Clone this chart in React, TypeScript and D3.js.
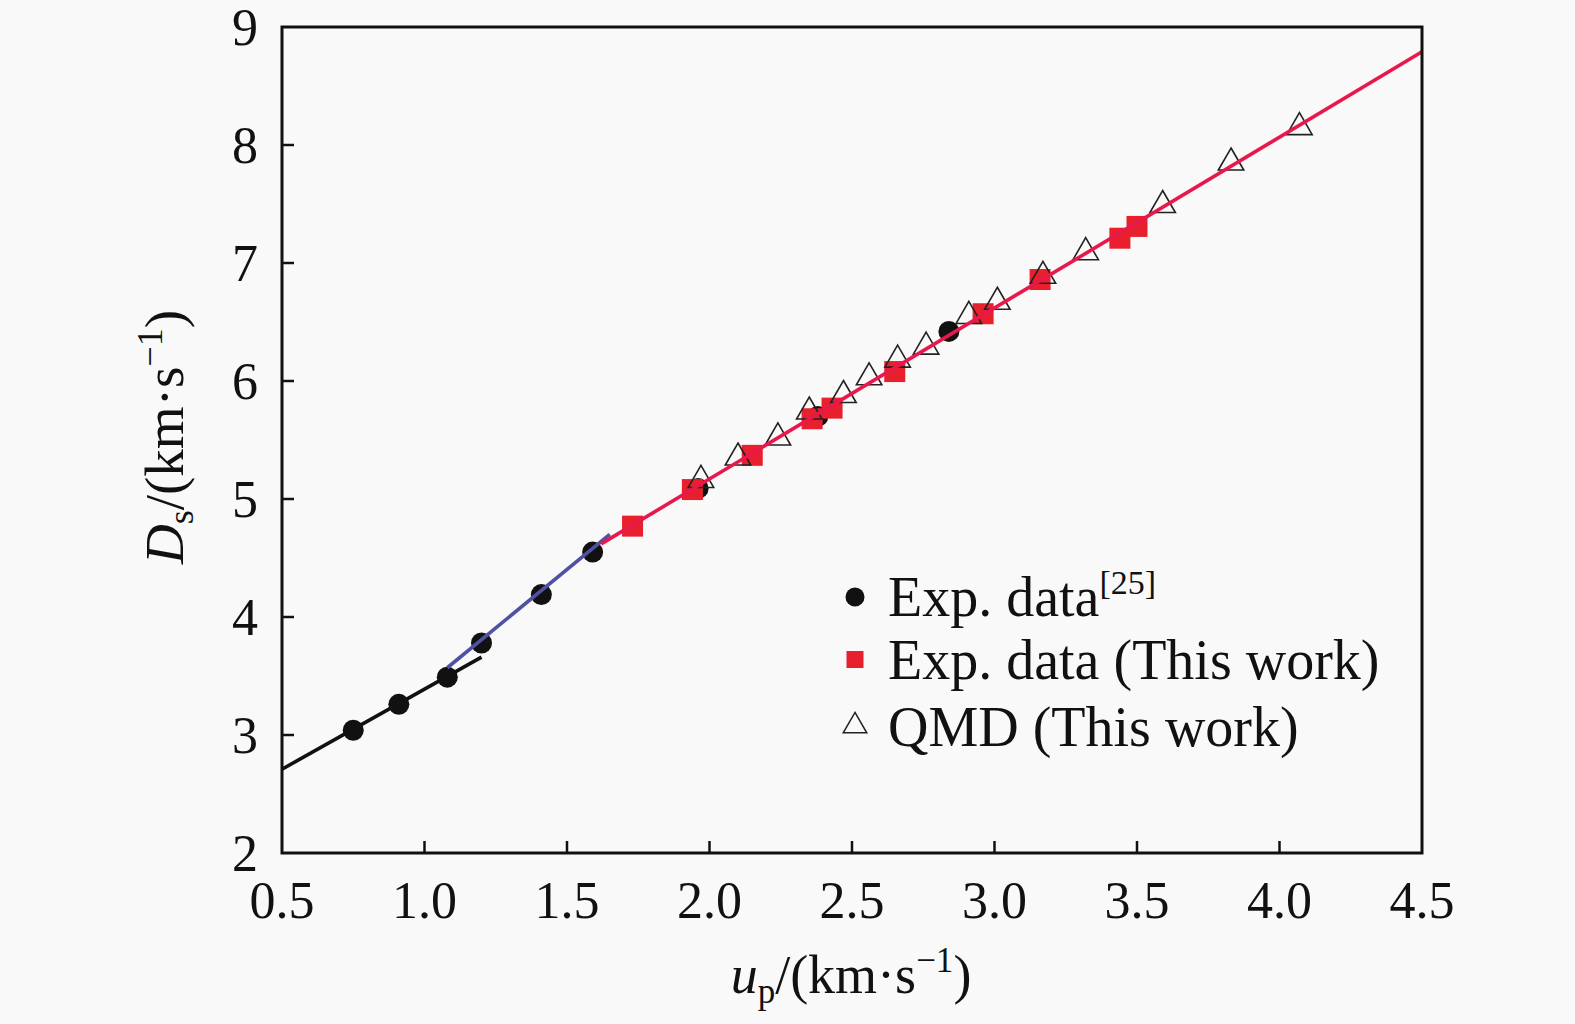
import React, { useEffect, useRef } from 'react';
import * as d3 from 'd3';

// Exp. data [25] (black circles)
const refUp = [0.75, 0.91, 1.08, 1.2, 1.41, 1.59, 1.96, 2.38, 2.84];
const refDs = [3.04, 3.26, 3.49, 3.78, 4.19, 4.55, 5.09, 5.7, 6.42];

// Exp. data (This work) (red squares)
const expUp = [1.73, 1.94, 2.15, 2.36, 2.43, 2.65, 2.96, 3.16, 3.44, 3.5];
const expDs = [4.77, 5.08, 5.37, 5.68, 5.77, 6.08, 6.57, 6.86, 7.21, 7.31];

// QMD (This work) (open triangles)
const qmdUp = [1.97, 2.1, 2.24, 2.35, 2.47, 2.56, 2.66, 2.76, 2.91, 3.01, 3.17, 3.32, 3.59, 3.83, 4.07];
const qmdDs = [5.16, 5.35, 5.52, 5.74, 5.88, 6.03, 6.18, 6.29, 6.55, 6.67, 6.89, 7.09, 7.49, 7.85, 8.15];

// fitted lines (end points)
const fitLowUp = [0.5, 1.2];
const fitLowDs = [2.71, 3.66];
const fitMidUp = [1.08, 1.65];
const fitMidDs = [3.57, 4.7];
const fitHighUp = [1.62, 4.5];
const fitHighDs = [4.62, 8.79];

const xTicks = [0.5, 1.0, 1.5, 2.0, 2.5, 3.0, 3.5, 4.0, 4.5];
const yTicks = [2, 3, 4, 5, 6, 7, 8, 9];

const zip = (xs: number[], ys: number[]) => xs.map((x, i) => [x, ys[i]] as [number, number]);

const App: React.FC = () => {
  const ref = useRef<SVGSVGElement>(null);

  useEffect(() => {
    const svg = d3.select(ref.current!);
    svg.selectAll('*').remove();

    const font = '"Liberation Serif", "Times New Roman", serif';
    const left = 282, right = 1422, top = 27, bottom = 853;

    const x = d3.scaleLinear().domain([0.5, 4.5]).range([left, right]);
    const y = d3.scaleLinear().domain([2, 9]).range([bottom, top]);

    svg.append('rect').attr('width', 1575).attr('height', 1024).attr('fill', '#f9f9f9');

    const g = svg.append('g');

    // markers
    g.selectAll('.ref')
      .data(zip(refUp, refDs))
      .enter()
      .append('circle')
      .attr('cx', (d) => x(d[0]))
      .attr('cy', (d) => y(d[1]))
      .attr('r', 10.5)
      .attr('fill', '#111');

    g.selectAll('.exp')
      .data(zip(expUp, expDs))
      .enter()
      .append('rect')
      .attr('x', (d) => x(d[0]) - 10.5)
      .attr('y', (d) => y(d[1]) - 10.5)
      .attr('width', 21)
      .attr('height', 21)
      .attr('fill', '#e8202e');

    const tri = d3.symbol().type(d3.symbolTriangle).size(280);
    g.selectAll('.qmd')
      .data(zip(qmdUp, qmdDs))
      .enter()
      .append('path')
      .attr('d', tri)
      .attr('transform', (d) => `translate(${x(d[0])},${y(d[1])})`)
      .attr('fill', 'none')
      .attr('stroke', '#222')
      .attr('stroke-width', 1.6);

    // fit lines
    const line = d3
      .line<[number, number]>()
      .x((d) => x(d[0]))
      .y((d) => y(d[1]));

    const fits: [number[], number[], string][] = [
      [fitLowUp, fitLowDs, '#111'],
      [fitMidUp, fitMidDs, '#5151a3'],
      [fitHighUp, fitHighDs, '#e8184c'],
    ];
    fits.forEach(([xs, ys, c]) => {
      g.append('path')
        .attr('d', line(zip(xs, ys)))
        .attr('fill', 'none')
        .attr('stroke', c)
        .attr('stroke-width', 3.6);
    });

    // frame
    svg.append('rect')
      .attr('x', left)
      .attr('y', top)
      .attr('width', right - left)
      .attr('height', bottom - top)
      .attr('fill', 'none')
      .attr('stroke', '#111')
      .attr('stroke-width', 3);

    // ticks (inward)
    svg.selectAll('.xt')
      .data(xTicks.slice(1, -1))
      .enter()
      .append('line')
      .attr('x1', (d) => x(d))
      .attr('x2', (d) => x(d))
      .attr('y1', bottom)
      .attr('y2', bottom - 12)
      .attr('stroke', '#111')
      .attr('stroke-width', 2.5);

    svg.selectAll('.yt')
      .data(yTicks.slice(1, -1))
      .enter()
      .append('line')
      .attr('x1', left)
      .attr('x2', left + 12)
      .attr('y1', (d) => y(d))
      .attr('y2', (d) => y(d))
      .attr('stroke', '#111')
      .attr('stroke-width', 2.5);

    // tick labels
    svg.selectAll('.xl')
      .data(xTicks)
      .enter()
      .append('text')
      .attr('x', (d) => x(d))
      .attr('y', 918)
      .attr('text-anchor', 'middle')
      .attr('font-family', font)
      .attr('font-size', 52)
      .attr('fill', '#111')
      .text((d) => d3.format('.1f')(d));

    svg.selectAll('.yl')
      .data(yTicks)
      .enter()
      .append('text')
      .attr('x', 258)
      .attr('y', (d) => y(d))
      .attr('dy', '0.35em')
      .attr('text-anchor', 'end')
      .attr('font-family', font)
      .attr('font-size', 52)
      .attr('fill', '#111')
      .text((d) => d);

    // axis titles
    const xt = svg.append('text')
      .attr('x', 851)
      .attr('y', 993)
      .attr('text-anchor', 'middle')
      .attr('font-family', font)
      .attr('font-size', 54)
      .attr('fill', '#111');
    xt.append('tspan').attr('font-style', 'italic').text('u');
    xt.append('tspan').attr('font-size', 35).attr('dy', 10).text('p');
    xt.append('tspan').attr('dy', -10).text('/(km·s');
    xt.append('tspan').attr('font-size', 35).attr('dy', -21).text('−1');
    xt.append('tspan').attr('dy', 21).text(')');

    const yt = svg.append('text')
      .attr('transform', 'translate(183,437) rotate(-90)')
      .attr('text-anchor', 'middle')
      .attr('font-family', font)
      .attr('font-size', 55)
      .attr('fill', '#111');
    yt.append('tspan').attr('font-style', 'italic').text('D');
    yt.append('tspan').attr('font-size', 36).attr('dy', 10).text('s');
    yt.append('tspan').attr('dy', -10).text('/(km·s');
    yt.append('tspan').attr('font-size', 36).attr('dy', -21).text('−1');
    yt.append('tspan').attr('dy', 21).text(')');

    // legend
    const lx = 855;
    const legendY = [616, 679, 746];
    svg.append('circle').attr('cx', lx).attr('cy', legendY[0] - 19).attr('r', 9.5).attr('fill', '#111');
    svg.append('rect').attr('x', lx - 8.5).attr('y', legendY[1] - 28).attr('width', 17).attr('height', 17).attr('fill', '#e8202e');
    svg.append('path')
      .attr('d', d3.symbol().type(d3.symbolTriangle).size(240)())
      .attr('transform', `translate(${lx},${legendY[2] - 20})`)
      .attr('fill', 'none')
      .attr('stroke', '#222')
      .attr('stroke-width', 1.5);

    const lt = (i: number) =>
      svg.append('text')
        .attr('x', 888)
        .attr('y', legendY[i])
        .attr('font-family', font)
        .attr('font-size', 56)
        .attr('fill', '#111');
    const l0 = lt(0);
    l0.append('tspan').text('Exp. data');
    l0.append('tspan').attr('font-size', 34).attr('dy', -22).text('[25]');
    lt(1).text('Exp. data (This work)');
    lt(2).text('QMD (This work)');
  }, []);

  return (
    <div style={{ position: 'absolute', left: 0, top: 0 }}>
      <svg ref={ref} width={1575} height={1024} />
    </div>
  );
};

export default App;
